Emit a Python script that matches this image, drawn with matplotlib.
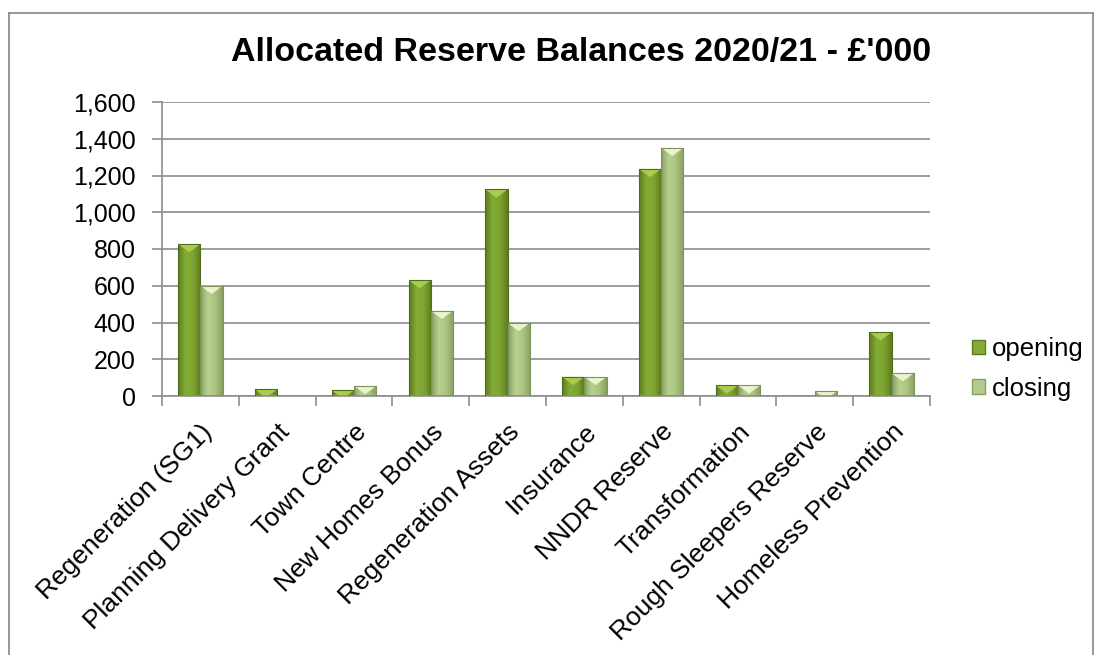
import numpy as np
import matplotlib
matplotlib.use("Agg")
import matplotlib.pyplot as plt
from matplotlib.colors import LinearSegmentedColormap
from matplotlib.patches import Polygon, Patch
from matplotlib.lines import Line2D
from matplotlib.ticker import FuncFormatter
from matplotlib.transforms import ScaledTranslation

plt.rcParams['font.family'] = ['Liberation Sans', 'DejaVu Sans']

categories = ["Regeneration (SG1)", "Planning Delivery Grant", "Town Centre",
              "New Homes Bonus", "Regeneration Assets", "Insurance", "NNDR Reserve",
              "Transformation", "Rough Sleepers Reserve", "Homeless Prevention"]
opening = [827, 36, 31, 631, 1124, 104, 1236, 58, 0, 347]
closing = [600, 0, 55, 464, 398, 104, 1351, 58, 27, 124]
series = ["opening", "closing"]

# dark edge -> light centre -> dark edge
cmaps = {
    "opening": LinearSegmentedColormap.from_list("op", ["#5a7c1c", "#86ad38", "#7ea332", "#5a7c1c"]),
    "closing": LinearSegmentedColormap.from_list("cl", ["#879f62", "#b8d18e", "#aac47f", "#879f62"]),
}
tops = {"opening": "#a9cd4c", "closing": "#eaf3cc"}
edges = {"opening": "#4f6d18", "closing": "#7d935c"}

fig = plt.figure(figsize=(11.01, 6.55), dpi=100)
ax = fig.add_axes([162 / 1101, 1 - 396 / 655, 768 / 1101, 294 / 655])

x = np.arange(len(categories))
w = 0.29
grad = np.linspace(0, 1, 64).reshape(1, -1)
bevel = 45  # depth of the top bevel in data units

for k, (name, vals) in enumerate(zip(series, [opening, closing])):
    offs = -w / 2 if k == 0 else w / 2
    bars = ax.bar(x + offs, vals, w, color="none", edgecolor=edges[name], linewidth=0.8, zorder=3)
    for b, v in zip(bars, vals):
        if v <= 0:
            continue
        x0 = b.get_x()
        x1 = x0 + b.get_width()
        im = ax.imshow(grad, cmap=cmaps[name], aspect="auto", extent=[x0, x1, 0, v],
                       zorder=2, interpolation="bicubic")
        im.set_clip_path(b)
        d = min(bevel, v)
        f = d / bevel
        xc = (x0 + x1) / 2
        hw = (x1 - x0) / 2 * (1 - f)
        poly = Polygon([(x0, v), (x1, v), (xc + hw, v - d), (xc - hw, v - d)],
                       closed=True, facecolor=tops[name], edgecolor="none", zorder=2.5)
        ax.add_patch(poly)

ax.set_xlim(-0.5, len(categories) - 0.5)
ax.set_ylim(0, 1600)
ax.set_yticks(range(0, 1601, 200))
ax.yaxis.set_major_formatter(FuncFormatter(lambda v, p: f"{int(v):,}"))
ax.set_xticks(np.arange(-0.5, len(categories), 1.0), minor=False)
ax.set_xticklabels([])
ax.set_xticks(x, minor=True)
labels = ax.set_xticklabels(categories, minor=True, rotation=45, ha="right", va="top",
                            rotation_mode="anchor", fontsize=19)
shift = ScaledTranslation(6 / 100, 0, fig.dpi_scale_trans)
for t in labels:
    t.set_transform(t.get_transform() + shift)
ax.tick_params(axis="x", which="minor", length=0, pad=17)
ax.tick_params(axis="x", which="major", length=7, color="#8c8c8c", width=1.2)
ax.tick_params(axis="y", length=7, color="#8c8c8c", width=1.2, labelsize=18, pad=12)

ax.grid(axis="y", color="#8c8c8c", linewidth=1.2, zorder=0)
ax.set_axisbelow(True)
for s in ["top", "right"]:
    ax.spines[s].set_visible(False)
for s in ["left", "bottom"]:
    ax.spines[s].set_color("#8c8c8c")
    ax.spines[s].set_linewidth(1.2)

fig.text(581 / 1101, 1 - 52 / 655, "Allocated Reserve Balances 2020/21 - £'000",
         ha="center", va="center", fontsize=24.5, fontweight="bold")

handles = [Patch(facecolor="#84ab36", edgecolor="#5a7c1c"),
           Patch(facecolor="#b3cc8a", edgecolor="#879f62")]
fig.legend(handles, series, loc="center left", bbox_to_anchor=(972 / 1101, 1 - 369 / 655),
           frameon=False, fontsize=18.5, handlelength=0.5, handleheight=0.5,
           handletextpad=0.27, labelspacing=0.6, borderaxespad=0, borderpad=0)

# chart area border
for xs, ys in [([9, 9], [700, 13]), ([9, 1093], [13, 13]), ([1093, 1093], [13, 700])]:
    fig.add_artist(Line2D([v / 1101 for v in xs], [1 - v / 655 for v in ys],
                          color="#868686", linewidth=1.2))

fig.savefig("out.png", dpi=100)
